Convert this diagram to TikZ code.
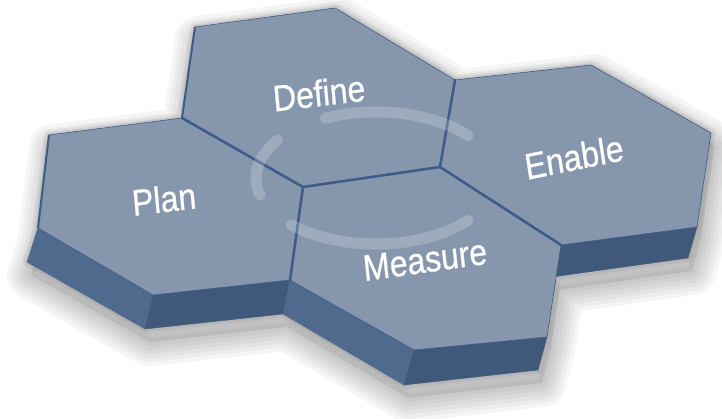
\documentclass[tikz,border=0pt]{standalone}
\usepackage{fontspec}
\setmainfont{Liberation Sans}
\newfontfamily\lblfont[FakeBold=0.7]{Liberation Sans}
\definecolor{face}{RGB}{134,150,173}
\definecolor{sidea}{RGB}{80,106,142}
\definecolor{sideb}{RGB}{64,88,122}
\definecolor{edgec}{RGB}{62,92,135}
\definecolor{shad}{RGB}{60,60,60}
\tikzset{
  facestyle/.style={fill=face, draw=edgec, line width=0.6pt, line join=round},
  sideastyle/.style={fill=sidea, draw=sidea, line width=0.4pt, line join=round},
  sidebstyle/.style={fill=sideb, draw=sideb, line width=0.4pt, line join=round},
  seam/.style={draw=edgec, line width=2.6pt, line cap=round},
  ringstyle/.style={draw=white, opacity=0.2, line width=11pt, line cap=round},
  label/.style={text=white, font=\lblfont\fontsize{32}{32}\selectfont, inner sep=0pt, yscale=1.15}
}
\begin{document}
\begin{tikzpicture}[x=1pt,y=-1pt]
\useasboundingbox (0,0) rectangle (722,419);
% vertices
\coordinate (D1) at (195,27);  \coordinate (D2) at (335,8);
\coordinate (D3) at (455,80);  \coordinate (D4) at (440,167);
\coordinate (D5) at (303,187); \coordinate (D6) at (182,118);
\coordinate (P1) at (49,135);  \coordinate (P4) at (290,280);
\coordinate (P5) at (153,295); \coordinate (P6) at (38,228);
\coordinate (M3) at (561,245); \coordinate (M4) at (547,337);
\coordinate (M5) at (414,350);
\coordinate (E2) at (591,65);  \coordinate (E3) at (711,133);
\coordinate (E4) at (697,227);
% extruded
\coordinate (P6b) at (27,262); \coordinate (P5b) at (145,329);
\coordinate (P4b) at (283,314);
\coordinate (M5b) at (404,385); \coordinate (M4b) at (538,370);
\coordinate (E4b) at (688,258); \coordinate (E5b) at (552,277);
\coordinate (EM) at (556,277);
% shadow
\foreach \w in {48,40,32,24,16,8} {
  \draw[shad, opacity=0.05, line width=\w pt, line join=round, fill=shad, fill opacity=0.02]
    ([shift={(4,13)}]P1) -- ([shift={(4,13)}]D6) -- ([shift={(4,13)}]D1) -- ([shift={(4,13)}]D2)
    -- ([shift={(4,13)}]D3) -- ([shift={(4,13)}]E2) -- ([shift={(4,13)}]E3) -- ([shift={(4,13)}]E4)
    -- ([shift={(4,13)}]E4b) -- ([shift={(4,13)}]EM) -- ([shift={(4,13)}]M4) -- ([shift={(4,13)}]M4b)
    -- ([shift={(4,13)}]M5b) -- ([shift={(4,13)}]P4b) -- ([shift={(4,13)}]P5b) -- ([shift={(4,13)}]P6b)
    -- ([shift={(4,13)}]P6) -- cycle;
}
\foreach \w in {10,6,3} {
  \draw[shad, opacity=0.06, line width=\w pt, line join=round]
    (P1) -- (D6) -- (D1) -- (D2) -- (D3) -- (E2) -- (E3) -- (E4) -- (E4b) -- (EM) -- (M4)
    -- (M4b) -- (M5b) -- (P4b) -- (P5b) -- (P6b) -- (P6) -- cycle;
}
% Define tile
\path[facestyle] (D1) -- (D2) -- (D3) -- (D4) -- (D5) -- (D6) -- cycle;
% Enable tile
\path[sidebstyle] (M3) -- (E4) -- (E4b) -- (E5b) -- cycle;
\path[facestyle] (D3) -- (E2) -- (E3) -- (E4) -- (M3) -- (D4) -- cycle;
% Plan tile
\path[sideastyle] (P6) -- (P5) -- (P5b) -- (P6b) -- cycle;
\path[sidebstyle] (P5) -- (P4) -- (P4b) -- (P5b) -- cycle;
\path[facestyle] (P1) -- (D6) -- (D5) -- (P4) -- (P5) -- (P6) -- cycle;
% Measure tile
\path[sideastyle] (P4) -- (M5) -- (M5b) -- (P4b) -- cycle;
\path[sidebstyle] (M5) -- (M4) -- (M4b) -- (M5b) -- cycle;
\path[facestyle] (D5) -- (D4) -- (M3) -- (M4) -- (M5) -- (P4) -- cycle;
% seams and dark outer left edges
\draw[seam] (D6) -- (D5);
\draw[seam] (D5) -- (D4);
\draw[seam] (D3) -- (D4);
\draw[seam] (D4) -- (M3);
\draw[seam] (D5) -- (P4);
\draw[draw=edgec, line width=2pt] (D6) -- (D1);
\draw[draw=edgec, line width=2pt] (P1) -- (P6);
% ring
\draw[ringstyle] plot[domain=40:115, samples=40] ({376+120*cos(\x)},{178-66*sin(\x)});
\draw[ringstyle] plot[domain=145:195, samples=30] ({376+120*cos(\x)},{178-66*sin(\x)});
\draw[ringstyle] plot[domain=225:320, samples=40] ({376+120*cos(\x)},{178-66*sin(\x)});
% labels
\node[label, rotate=6] (define) at (319,93) {Define};
\node[label, rotate=6] (plan) at (164,199) {Plan};
\node[label, rotate=10] (enable) at (574,157) {Enable};
\node[label, rotate=7] (measure) at (425,260) {Measure};
\end{tikzpicture}
\end{document}
